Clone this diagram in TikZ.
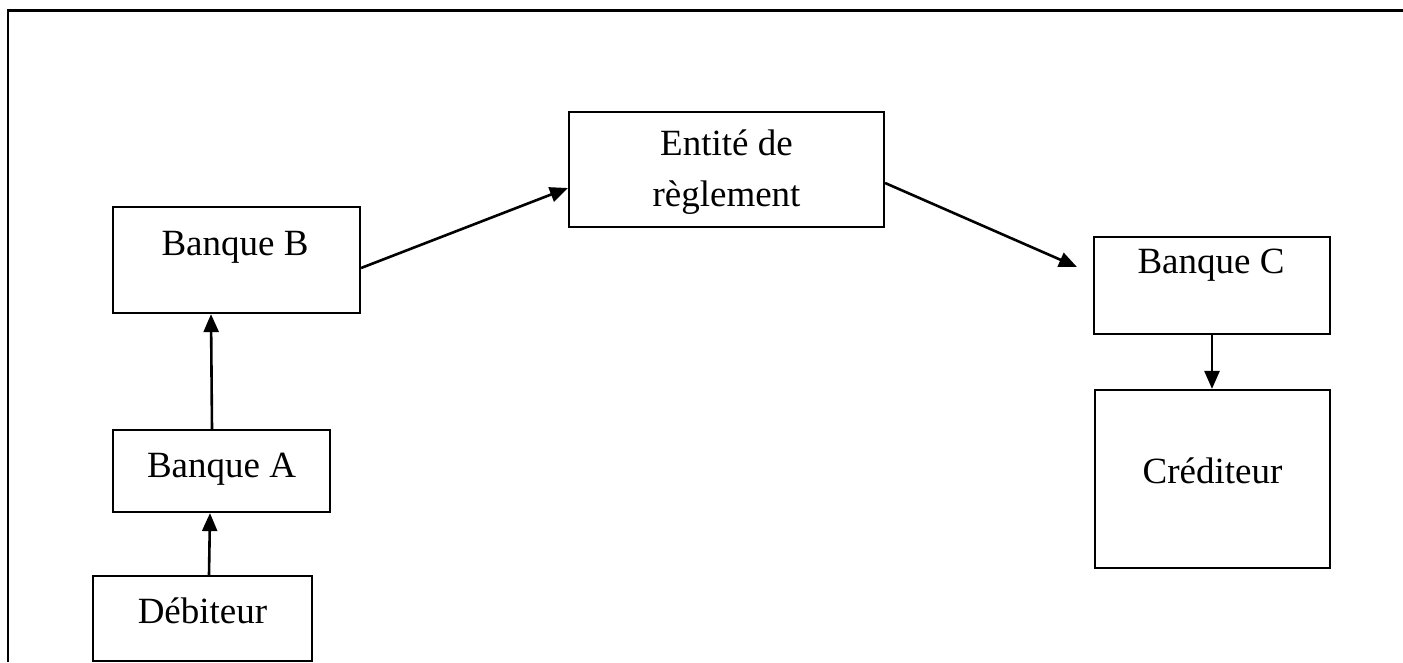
\documentclass[tikz,border=0pt]{standalone}
\usepackage{fontspec}
\setmainfont{Liberation Serif}
\usetikzlibrary{arrows.meta}
\tikzset{
  box/.style={draw=black, line width=2.2pt, fill=white, inner sep=0pt},
  txt/.style={anchor=base, inner sep=0pt, font=\fontsize{37}{44}\selectfont},
  link/.style={draw=black, line width=2.6pt, -{Triangle[length=18pt,width=15pt]}},
  frame/.style={draw=black, line width=2.8pt}
}
\begin{document}
\begin{tikzpicture}[x=1pt, y=-1pt]
\useasboundingbox (0,0) rectangle (1403,662);
% open frame: top and left edges only
\draw[frame] (1403,10.5) -- (8,10.5) -- (8,662);

% boxes
\node[box, minimum width=247pt, minimum height=106pt] (bb) at (236.5,260) {};
\node[box, minimum width=217pt, minimum height=82pt]  (ba) at (221.5,471) {};
\node[box, minimum width=219pt, minimum height=85pt]  (deb) at (202.5,618.5) {};
\node[box, minimum width=315pt, minimum height=115pt] (ent) at (726.5,169.5) {};
\node[box, minimum width=236pt, minimum height=97pt]  (bc) at (1212,285.5) {};
\node[box, minimum width=235pt, minimum height=178pt] (cre) at (1212.5,479) {};

% labels
\node[txt] (tbb) at (235,255) {Banque B};
\node[txt] (tba) at (221.5,477) {Banque A};
\node[txt] (tdeb) at (202.5,623) {Débiteur};
\node[txt] (tent1) at (726.5,155) {Entité de};
\node[txt] (tent2) at (726.5,206) {règlement};
\node[txt] (tbc) at (1211,273) {Banque C};
\node[txt] (tcre) at (1212.5,483) {Créditeur};

% flow of the payment
\coordinate (cin) at (1077,267);
\draw[link] ([xshift=6.5pt]deb.north) -- ([xshift=-11.5pt]ba.south);
\draw[link] ([xshift=-9.5pt]ba.north) -- ([xshift=-25.5pt]bb.south);
\draw[link] ([yshift=-8pt]bb.east) -- ([yshift=-18.5pt]ent.west);
\draw[link] ([yshift=-13.5pt]ent.east) -- (cin);
\draw[link] (bc.south) -- (bc.south |- cre.north);
\end{tikzpicture}
\end{document}
